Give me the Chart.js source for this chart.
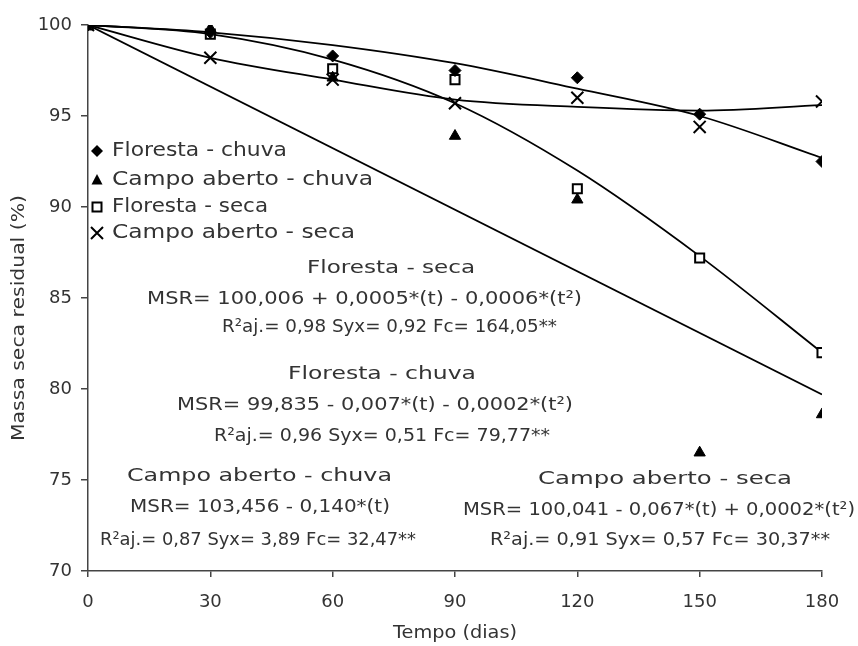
<!DOCTYPE html>
<html><head><meta charset="utf-8">
<script src="https://cdn.jsdelivr.net/npm/chart.js@4.4.1/dist/chart.umd.min.js"></script>
<style>html,body{margin:0;padding:0;background:#fff;}#wrap{width:858px;height:646px;}</style>
</head><body><div id="wrap"><canvas id="c" width="858" height="646"></canvas></div>
<script>
// ---- data ----
const days = [0, 30, 60, 90, 120, 150, 180];
const florestaChuva = [100, 99.6, 98.3, 97.5, 97.1, 95.1, 92.5];
const campoChuva    = [100, 99.8, 97.1, 93.9, 90.4, 76.5, 78.6];
const florestaSeca  = [100, 99.5, 97.6, 97.0, 91.0, 87.2, 82.0];
const campoSeca     = [100, 98.2, 97.0, 95.7, 96.0, 94.4, 95.8];
// fitted curves as drawn in the picture
const fitFlorestaChuva = [100, 99.6, 98.9, 97.9, 96.5, 95.0, 92.7];
const fitFlorestaSeca  = [100, 99.5, 98.1, 95.7, 92.0, 87.3, 82.0];
const fitCampoSeca     = [100, 98.2, 97.0, 95.9, 95.5, 95.3, 95.6];
const fitCampoChuvaDays = [0, 180];
const fitCampoChuva     = [100, 79.7];
const legendLabels = ['Floresta - chuva', 'Campo aberto - chuva', 'Floresta - seca', 'Campo aberto - seca'];
const eqFlorestaSeca  = ['Floresta - seca', 'MSR= 100,006 + 0,0005*(t) - 0,0006*(t²)', 'R²aj.= 0,98 Syx= 0,92 Fc= 164,05**'];
const eqFlorestaChuva = ['Floresta - chuva', 'MSR= 99,835 - 0,007*(t) - 0,0002*(t²)', 'R²aj.= 0,96 Syx= 0,51 Fc= 79,77**'];
const eqCampoChuva    = ['Campo aberto - chuva', 'MSR= 103,456 - 0,140*(t)', 'R²aj.= 0,87 Syx= 3,89 Fc= 32,47**'];
const eqCampoSeca     = ['Campo aberto - seca', 'MSR= 100,041 - 0,067*(t) + 0,0002*(t²)', 'R²aj.= 0,91 Syx= 0,57 Fc= 30,37**'];
const xTitle = 'Tempo (dias)';
const yTitle = 'Massa seca residual (%)';

function pts(xs, ys) { return xs.map((x, i) => ({x: x, y: ys[i]})); }

const FONT = '"DejaVu Sans", sans-serif';
const TXT = '#333';

function lineDs(xs, ys) {
  return {type: 'line', data: pts(xs, ys), borderColor: '#000', borderWidth: 1.8,
    pointRadius: 0, fill: false, cubicInterpolationMode: 'monotone', order: 2};
}
function markDs(ys, style, r, fillC, bw) {
  return {type: 'scatter', data: pts(days, ys), showLine: false, pointStyle: style,
    pointRadius: r, pointHoverRadius: r, pointBackgroundColor: fillC, pointBorderColor: '#000',
    pointBorderWidth: bw, order: 1};
}

// draw text stretched to span [left, right], vertically centred on cy
function spanText(ctx, text, left, right, cy) {
  const w = ctx.measureText(text).width;
  ctx.save();
  ctx.translate(left, cy);
  ctx.scale((right - left) / w, 1);
  ctx.fillText(text, 0, 0);
  ctx.restore();
}

const overlay = {
  id: 'overlay',
  afterDraw(chart) {
    const ctx = chart.ctx;
    ctx.save();
    ctx.fillStyle = TXT;
    ctx.textBaseline = 'middle';
    ctx.textAlign = 'left';
    // annotation text: [left, right, centreY] for each line
    ctx.font = '18px ' + FONT;
    const blocks = [
      [eqFlorestaSeca, [[307, 475, 268], [147, 582, 299], [222, 557, 327]]],
      [eqFlorestaChuva, [[288, 476, 374], [177, 573, 405], [214, 550, 436]]],
      [eqCampoChuva, [[127, 392, 476], [130, 390, 507], [100, 416, 540]]],
      [eqCampoSeca, [[538, 792, 479], [463, 855, 510], [490, 830, 540]]]
    ];
    blocks.forEach(b => b[0].forEach((t, i) => spanText(ctx, t, b[1][i][0], b[1][i][1], b[1][i][2])));
    // axis titles
    spanText(ctx, xTitle, 393, 517, 633);
    ctx.save();
    ctx.translate(19, 318);
    ctx.rotate(-Math.PI / 2);
    spanText(ctx, yTitle, -123, 123, 0);
    ctx.restore();
    // legend
    ctx.font = '19px ' + FONT;
    const ly = [151, 180, 207, 233];
    const lr = [287, 373, 268, 355];
    const mx = 97;
    legendLabels.forEach((t, i) => spanText(ctx, t, 112, lr[i], ly[i]));
    ctx.fillStyle = '#000'; ctx.strokeStyle = '#000';
    let y = ly[0];
    ctx.beginPath(); ctx.moveTo(mx, y - 6); ctx.lineTo(mx + 6, y); ctx.lineTo(mx, y + 6); ctx.lineTo(mx - 6, y); ctx.closePath(); ctx.fill();
    y = ly[1];
    ctx.beginPath(); ctx.moveTo(mx, y - 6); ctx.lineTo(mx + 5.5, y + 4.5); ctx.lineTo(mx - 5.5, y + 4.5); ctx.closePath(); ctx.fill();
    y = ly[2];
    ctx.lineWidth = 2; ctx.fillStyle = '#fff';
    ctx.beginPath(); ctx.rect(mx - 4.5, y - 4.5, 9, 9); ctx.fill(); ctx.stroke();
    y = ly[3];
    ctx.beginPath(); ctx.moveTo(mx - 6, y - 6); ctx.lineTo(mx + 6, y + 6); ctx.moveTo(mx + 6, y - 6); ctx.lineTo(mx - 6, y + 6); ctx.stroke();
    ctx.restore();
  }
};

new Chart(document.getElementById('c'), {
  data: {
    datasets: [
      lineDs(days, fitFlorestaChuva),
      lineDs(days, fitFlorestaSeca),
      lineDs(days, fitCampoSeca),
      lineDs(fitCampoChuvaDays, fitCampoChuva),
      markDs(florestaChuva, 'rectRot', 6, '#000', 1),
      markDs(campoChuva, 'triangle', 6.5, '#000', 1),
      markDs(florestaSeca, 'rect', 6.4, '#fff', 2),
      markDs(campoSeca, 'crossRot', 8.5, '#000', 2)
    ]
  },
  options: {
    responsive: false, animation: false, devicePixelRatio: 1,
    layout: {padding: {top: 25, right: 36, left: 0, bottom: 0}},
    plugins: {legend: {display: false}, tooltip: {enabled: false}},
    scales: {
      x: {type: 'linear', min: 0, max: 180,
        ticks: {stepSize: 30, color: TXT, font: {family: FONT, size: 18}, padding: 15, maxRotation: 0},
        grid: {drawOnChartArea: false, drawTicks: true, tickLength: 6, color: '#444', lineWidth: 1.5},
        border: {display: true, color: '#444', width: 1.5},
        title: {display: false, text: xTitle},
        afterFit(s) { s.height = 75; }
      },
      y: {type: 'linear', min: 70, max: 100,
        ticks: {stepSize: 5, color: TXT, font: {family: FONT, size: 18}, padding: 9},
        grid: {drawOnChartArea: false, drawTicks: true, tickLength: 7, color: '#444', lineWidth: 1.5},
        border: {display: true, color: '#444', width: 1.5},
        title: {display: false, text: yTitle},
        afterFit(s) { s.width = 88; }
      }
    }
  },
  plugins: [overlay]
});
</script></body></html>
